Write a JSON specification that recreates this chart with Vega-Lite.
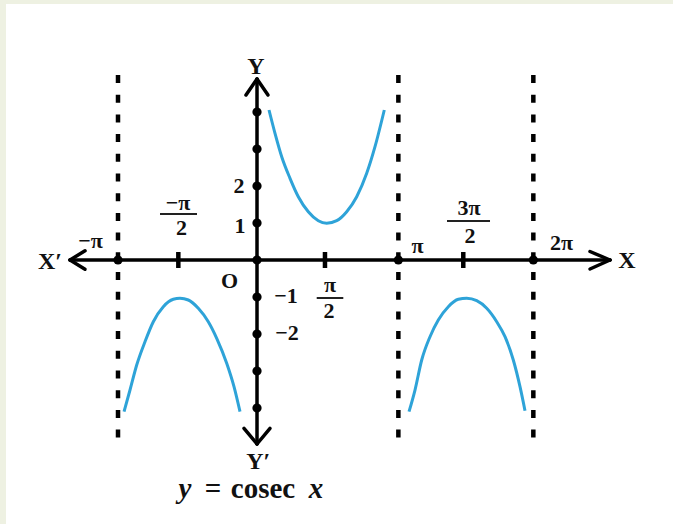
{
  "$schema": "https://vega.github.io/schema/vega-lite/v6.json",
  "width": 667,
  "height": 520,
  "autosize": {"type": "none"},
  "padding": {"left": 6, "top": 4, "right": 0, "bottom": 0},
  "background": "#eef1e2",
  "config": {"view": {"fill": "white", "stroke": null}},
  "datasets": {
    "curves": [
      {"branch": "upper", "x": 0.0863, "y": 4.054},
      {"branch": "upper", "x": 0.1295, "y": 3.424},
      {"branch": "upper", "x": 0.1777, "y": 2.792},
      {"branch": "upper", "x": 0.2374, "y": 2.208},
      {"branch": "upper", "x": 0.2971, "y": 1.711},
      {"branch": "upper", "x": 0.3691, "y": 1.305},
      {"branch": "upper", "x": 0.4410, "y": 1.062},
      {"branch": "upper", "x": 0.5014, "y": 0.992},
      {"branch": "upper", "x": 0.5734, "y": 1.062},
      {"branch": "upper", "x": 0.6453, "y": 1.305},
      {"branch": "upper", "x": 0.7173, "y": 1.711},
      {"branch": "upper", "x": 0.7892, "y": 2.343},
      {"branch": "upper", "x": 0.8489, "y": 3.062},
      {"branch": "upper", "x": 0.9158, "y": 4.054},
      {"branch": "lowerleft", "x": -0.9568, "y": -4.100},
      {"branch": "lowerleft", "x": -0.9137, "y": -3.514},
      {"branch": "lowerleft", "x": -0.8655, "y": -2.838},
      {"branch": "lowerleft", "x": -0.8058, "y": -2.208},
      {"branch": "lowerleft", "x": -0.7460, "y": -1.668},
      {"branch": "lowerleft", "x": -0.6741, "y": -1.262},
      {"branch": "lowerleft", "x": -0.6022, "y": -1.062},
      {"branch": "lowerleft", "x": -0.5540, "y": -1.035},
      {"branch": "lowerleft", "x": -0.4942, "y": -1.081},
      {"branch": "lowerleft", "x": -0.4223, "y": -1.305},
      {"branch": "lowerleft", "x": -0.3504, "y": -1.668},
      {"branch": "lowerleft", "x": -0.2899, "y": -2.116},
      {"branch": "lowerleft", "x": -0.2180, "y": -2.792},
      {"branch": "lowerleft", "x": -0.1655, "y": -3.424},
      {"branch": "lowerleft", "x": -0.1223, "y": -4.100},
      {"branch": "lowerright", "x": 1.0935, "y": -4.100},
      {"branch": "lowerright", "x": 1.1367, "y": -3.514},
      {"branch": "lowerright", "x": 1.1849, "y": -2.703},
      {"branch": "lowerright", "x": 1.2446, "y": -2.073},
      {"branch": "lowerright", "x": 1.3043, "y": -1.622},
      {"branch": "lowerright", "x": 1.3763, "y": -1.262},
      {"branch": "lowerright", "x": 1.4482, "y": -1.062},
      {"branch": "lowerright", "x": 1.5086, "y": -1.035},
      {"branch": "lowerright", "x": 1.5806, "y": -1.100},
      {"branch": "lowerright", "x": 1.6525, "y": -1.305},
      {"branch": "lowerright", "x": 1.7245, "y": -1.668},
      {"branch": "lowerright", "x": 1.7842, "y": -2.073},
      {"branch": "lowerright", "x": 1.8439, "y": -2.703},
      {"branch": "lowerright", "x": 1.8921, "y": -3.424},
      {"branch": "lowerright", "x": 1.9281, "y": -4.073}
    ],
    "asymptotes": [
      {"x": -1.0, "top": 5.0, "bottom": -4.892},
      {"x": 1.017, "top": 5.0, "bottom": -4.892},
      {"x": 1.988, "top": 5.0, "bottom": -4.892}
    ],
    "segments": [
      {"kind": "axis", "x1": -1.3453, "y1": 0, "x2": 2.5396, "y2": 0},
      {"kind": "axis", "x1": 0, "y1": 4.892, "x2": 0, "y2": -4.973},
      {"kind": "arrow", "x1": -1.3453, "y1": 0, "x2": -1.2374, "y2": 0.25},
      {"kind": "arrow", "x1": -1.3453, "y1": 0, "x2": -1.2374, "y2": -0.25},
      {"kind": "arrow", "x1": 2.5396, "y1": 0, "x2": 2.3957, "y2": 0.23},
      {"kind": "arrow", "x1": 2.5396, "y1": 0, "x2": 2.3957, "y2": -0.243},
      {"kind": "arrow", "x1": 0, "y1": 4.892, "x2": -0.0791, "y2": 4.459},
      {"kind": "arrow", "x1": 0, "y1": 4.892, "x2": 0.0791, "y2": 4.459},
      {"kind": "arrow", "x1": 0, "y1": -4.973, "x2": -0.0935, "y2": -4.549},
      {"kind": "arrow", "x1": 0, "y1": -4.973, "x2": 0.0935, "y2": -4.549},
      {"kind": "tick", "x1": -0.566, "y1": 0.216, "x2": -0.566, "y2": -0.216},
      {"kind": "tick", "x1": 0.489, "y1": 0.216, "x2": 0.489, "y2": -0.216},
      {"kind": "tick", "x1": 1.484, "y1": 0.216, "x2": 1.484, "y2": -0.216},
      {"kind": "bar", "x1": -0.6978, "y1": 1.243, "x2": -0.4317, "y2": 1.243},
      {"kind": "bar", "x1": 0.4295, "y1": -1.027, "x2": 0.6209, "y2": -1.027},
      {"kind": "bar", "x1": 1.3669, "y1": 1.054, "x2": 1.6763, "y2": 1.054}
    ],
    "dots": [
      {"x": -1.0, "y": 0}, {"x": 0, "y": 0}, {"x": 1.017, "y": 0}, {"x": 1.988, "y": 0},
      {"x": 0, "y": 1}, {"x": 0, "y": 2}, {"x": 0, "y": 3}, {"x": 0, "y": 4},
      {"x": 0, "y": -1}, {"x": 0, "y": -2}, {"x": 0, "y": -3}, {"x": 0, "y": -4}
    ],
    "labels": [
      {"t": "−π", "x": -1.1978, "y": 0.514},
      {"t": "−π", "x": -0.5683, "y": 1.541},
      {"t": "2", "x": -0.5432, "y": 0.865},
      {"t": "π", "x": 0.5252, "y": -0.676},
      {"t": "2", "x": 0.518, "y": -1.378},
      {"t": "π", "x": 1.1547, "y": 0.378},
      {"t": "3π", "x": 1.5252, "y": 1.405},
      {"t": "2", "x": 1.5324, "y": 0.649},
      {"t": "2π", "x": 2.1906, "y": 0.446},
      {"t": "2", "x": -0.1295, "y": 2.0},
      {"t": "1", "x": -0.1223, "y": 0.919},
      {"t": "−1", "x": 0.2086, "y": -0.973},
      {"t": "−2", "x": 0.2158, "y": -1.973},
      {"t": "O", "x": -0.1978, "y": -0.581}
    ],
    "axisnames": [
      {"t": "X′", "x": -1.4892, "y": -0.054},
      {"t": "X", "x": 2.6619, "y": -0.027},
      {"t": "Y", "x": -0.0086, "y": 5.224},
      {"t": "Y′", "x": 0.0094, "y": -5.451}
    ],
    "caption_roman": [
      {"t": "=", "x": -0.3165, "y": -6.432},
      {"t": "cosec", "x": 0.0432, "y": -6.432}
    ],
    "caption_italic": [
      {"t": "y", "x": -0.518, "y": -6.432},
      {"t": "x", "x": 0.4245, "y": -6.432}
    ]
  },
  "layer": [
    {
      "data": {"name": "asymptotes"},
      "mark": {"type": "rule", "color": "black", "strokeWidth": 4.5, "strokeDash": [8, 11.7], "strokeCap": "butt"},
      "encoding": {
        "x": {"field": "x", "type": "quantitative", "scale": {"domain": [-1.8058, 2.9928], "nice": false, "zero": false}, "axis": null},
        "y": {"field": "top", "type": "quantitative", "scale": {"domain": [-7.1351, 6.9189], "nice": false, "zero": false}, "axis": null},
        "y2": {"field": "bottom"}
      }
    },
    {
      "data": {"name": "segments"},
      "transform": [{"filter": "datum.kind === 'axis' || datum.kind === 'arrow'"}],
      "mark": {"type": "rule", "color": "black", "strokeWidth": 3.5, "strokeCap": "round"},
      "encoding": {
        "x": {"field": "x1", "type": "quantitative", "scale": {"domain": [-1.8058, 2.9928], "nice": false, "zero": false}, "axis": null},
        "y": {"field": "y1", "type": "quantitative", "scale": {"domain": [-7.1351, 6.9189], "nice": false, "zero": false}, "axis": null},
        "x2": {"field": "x2"},
        "y2": {"field": "y2"}
      }
    },
    {
      "data": {"name": "segments"},
      "transform": [{"filter": "datum.kind === 'tick'"}],
      "mark": {"type": "rule", "color": "black", "strokeWidth": 4.5, "strokeCap": "butt"},
      "encoding": {
        "x": {"field": "x1", "type": "quantitative", "scale": {"domain": [-1.8058, 2.9928], "nice": false, "zero": false}, "axis": null},
        "y": {"field": "y1", "type": "quantitative", "scale": {"domain": [-7.1351, 6.9189], "nice": false, "zero": false}, "axis": null},
        "x2": {"field": "x2"},
        "y2": {"field": "y2"}
      }
    },
    {
      "data": {"name": "segments"},
      "transform": [{"filter": "datum.kind === 'bar'"}],
      "mark": {"type": "rule", "color": "#222", "strokeWidth": 2},
      "encoding": {
        "x": {"field": "x1", "type": "quantitative", "scale": {"domain": [-1.8058, 2.9928], "nice": false, "zero": false}, "axis": null},
        "y": {"field": "y1", "type": "quantitative", "scale": {"domain": [-7.1351, 6.9189], "nice": false, "zero": false}, "axis": null},
        "x2": {"field": "x2"},
        "y2": {"field": "y2"}
      }
    },
    {
      "data": {"name": "dots"},
      "mark": {"type": "point", "shape": "circle", "filled": true, "color": "black", "opacity": 1, "size": 85},
      "encoding": {
        "x": {"field": "x", "type": "quantitative", "scale": {"domain": [-1.8058, 2.9928], "nice": false, "zero": false}, "axis": null},
        "y": {"field": "y", "type": "quantitative", "scale": {"domain": [-7.1351, 6.9189], "nice": false, "zero": false}, "axis": null}
      }
    },
    {
      "data": {"name": "curves"},
      "mark": {"type": "line", "color": "#2ea3d8", "strokeWidth": 3, "interpolate": "monotone"},
      "encoding": {
        "x": {"field": "x", "type": "quantitative", "scale": {"domain": [-1.8058, 2.9928], "nice": false, "zero": false}, "axis": null},
        "y": {"field": "y", "type": "quantitative", "scale": {"domain": [-7.1351, 6.9189], "nice": false, "zero": false}, "axis": null},
        "detail": {"field": "branch", "type": "nominal"}
      }
    },
    {
      "data": {"name": "labels"},
      "mark": {"type": "text", "font": "Liberation Serif", "fontWeight": "bold", "fontSize": 22, "align": "center", "baseline": "middle", "color": "#111"},
      "encoding": {
        "x": {"field": "x", "type": "quantitative", "scale": {"domain": [-1.8058, 2.9928], "nice": false, "zero": false}, "axis": null},
        "y": {"field": "y", "type": "quantitative", "scale": {"domain": [-7.1351, 6.9189], "nice": false, "zero": false}, "axis": null},
        "text": {"field": "t"}
      }
    },
    {
      "data": {"name": "axisnames"},
      "mark": {"type": "text", "font": "Liberation Serif", "fontWeight": "bold", "fontSize": 24, "align": "center", "baseline": "middle", "color": "#111"},
      "encoding": {
        "x": {"field": "x", "type": "quantitative", "scale": {"domain": [-1.8058, 2.9928], "nice": false, "zero": false}, "axis": null},
        "y": {"field": "y", "type": "quantitative", "scale": {"domain": [-7.1351, 6.9189], "nice": false, "zero": false}, "axis": null},
        "text": {"field": "t"}
      }
    },
    {
      "data": {"name": "caption_roman"},
      "mark": {"type": "text", "font": "Liberation Serif", "fontWeight": "bold", "fontSize": 29, "align": "center", "baseline": "alphabetic", "color": "#111"},
      "encoding": {
        "x": {"field": "x", "type": "quantitative", "scale": {"domain": [-1.8058, 2.9928], "nice": false, "zero": false}, "axis": null},
        "y": {"field": "y", "type": "quantitative", "scale": {"domain": [-7.1351, 6.9189], "nice": false, "zero": false}, "axis": null},
        "text": {"field": "t"}
      }
    },
    {
      "data": {"name": "caption_italic"},
      "mark": {"type": "text", "font": "Liberation Serif", "fontWeight": "bold", "fontStyle": "italic", "fontSize": 29, "align": "center", "baseline": "alphabetic", "color": "#111"},
      "encoding": {
        "x": {"field": "x", "type": "quantitative", "scale": {"domain": [-1.8058, 2.9928], "nice": false, "zero": false}, "axis": null},
        "y": {"field": "y", "type": "quantitative", "scale": {"domain": [-7.1351, 6.9189], "nice": false, "zero": false}, "axis": null},
        "text": {"field": "t"}
      }
    }
  ]
}
